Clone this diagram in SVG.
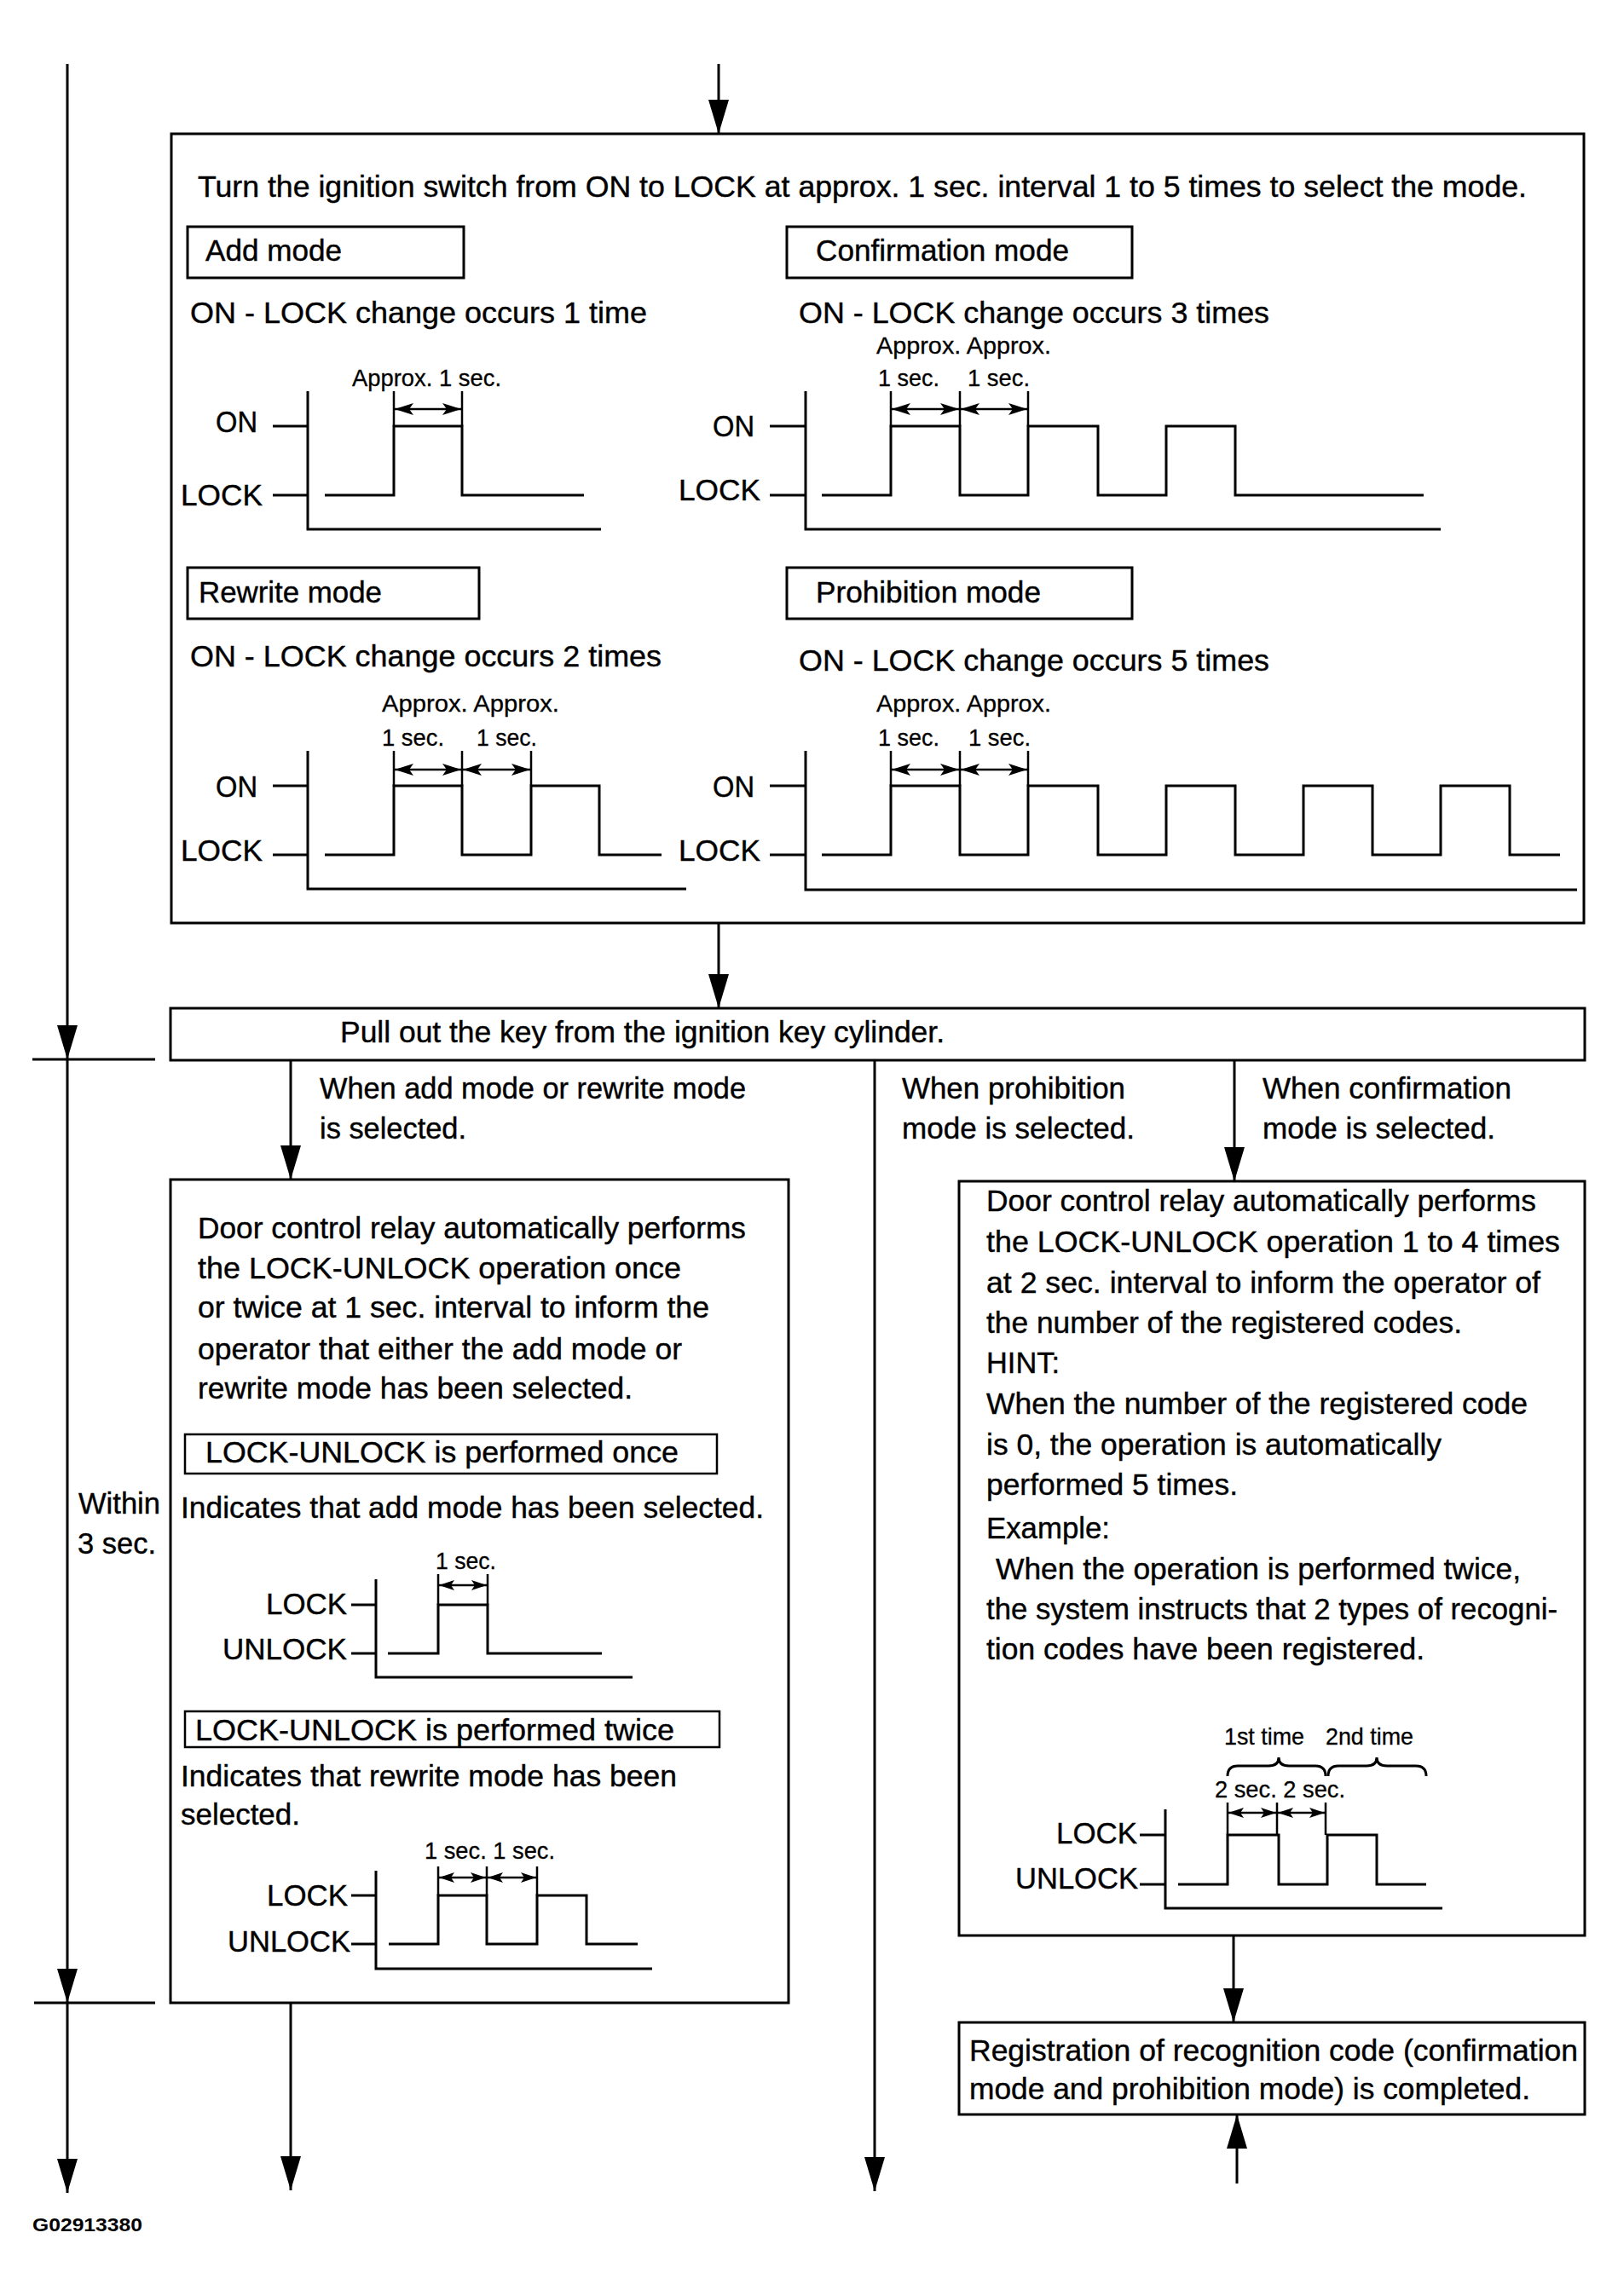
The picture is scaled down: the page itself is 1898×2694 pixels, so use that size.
<svg xmlns="http://www.w3.org/2000/svg" width="1898" height="2694" viewBox="0 0 1898 2694">
<style>
text{font-family:"Liberation Sans",Arial,Helvetica,sans-serif;font-size:35px;fill:#000;stroke:#000;stroke-width:0.4}
.s{font-size:28px;stroke-width:0.3}
.g{font-size:22px;font-weight:bold;stroke-width:0}
.box{fill:none;stroke:#000;stroke-width:3}
.sub{fill:none;stroke:#000;stroke-width:2.5}
.ln{fill:none;stroke:#000;stroke-width:3}
.wv{fill:none;stroke:#000;stroke-width:3;stroke-linejoin:miter}
.dm{fill:none;stroke:#000;stroke-width:2.5}
.da{fill:none;stroke:#000;stroke-width:2.5;marker-start:url(#dh);marker-end:url(#dh)}
.ds{fill:none;stroke:#000;stroke-width:2.5;marker-start:url(#dhs);marker-end:url(#dhs)}
.fl{fill:none;stroke:#000;stroke-width:3;marker-end:url(#ah)}
</style>
<defs>
<marker id="ah" markerUnits="userSpaceOnUse" viewBox="0 0 40 24" markerWidth="40" markerHeight="24" refX="40" refY="12" orient="auto"><path d="M0,0 L40,12 L0,24 z" fill="#000"/></marker>
<marker id="dh" markerUnits="userSpaceOnUse" viewBox="0 0 22 14" markerWidth="22" markerHeight="14" refX="22" refY="7" orient="auto-start-reverse"><path d="M0,0 L22,7 L0,14 L5,7 z" fill="#000"/></marker>
<marker id="dhs" markerUnits="userSpaceOnUse" viewBox="0 0 18 12" markerWidth="18" markerHeight="12" refX="18" refY="6" orient="auto-start-reverse"><path d="M0,0 L18,6 L0,12 L4,6 z" fill="#000"/></marker>
</defs>
<rect width="1898" height="2694" fill="#fff"/>

<g id="connectors">
<path class="fl" d="M79,75 V1243"/>
<path class="fl" d="M79,1243 V2350"/>
<path class="fl" d="M79,2350 V2573"/>
<path class="ln" d="M38,1243 H182"/>
<path class="ln" d="M40,2350 H182"/>
<path class="fl" d="M843,75 V157"/>
<path class="fl" d="M843,1083 V1183"/>
<path class="fl" d="M341,1244 V1384"/>
<path class="fl" d="M1026,1244 V2571"/>
<path class="fl" d="M1448,1244 V1386"/>
<path class="fl" d="M1447,2271 V2373"/>
<path class="fl" d="M1451,2562 V2481"/>
<path class="fl" d="M341,2350 V2570"/>
<text x="375" y="1289" textLength="500" lengthAdjust="spacingAndGlyphs">When add mode or rewrite mode</text>
<text x="375" y="1336" textLength="172" lengthAdjust="spacingAndGlyphs">is selected.</text>
<text x="1058" y="1289" textLength="262" lengthAdjust="spacingAndGlyphs">When prohibition</text>
<text x="1058" y="1336" textLength="273" lengthAdjust="spacingAndGlyphs">mode is selected.</text>
<text x="1481" y="1289" textLength="292" lengthAdjust="spacingAndGlyphs">When confirmation</text>
<text x="1481" y="1336" textLength="273" lengthAdjust="spacingAndGlyphs">mode is selected.</text>
<text x="92" y="1776" textLength="96" lengthAdjust="spacingAndGlyphs">Within</text>
<text x="91" y="1823" textLength="92" lengthAdjust="spacingAndGlyphs">3 sec.</text>
</g>

<g id="mode-select">
<rect class="box" x="201" y="157" width="1657" height="926"/>
<text x="232" y="231" textLength="1559" lengthAdjust="spacingAndGlyphs">Turn the ignition switch from ON to LOCK at approx. 1 sec. interval 1 to 5 times to select the mode.</text>

<g id="add-mode">
<rect class="box" x="220" y="266" width="324" height="60"/>
<text x="241" y="306" textLength="160" lengthAdjust="spacingAndGlyphs">Add mode</text>
<text x="223" y="379" textLength="536" lengthAdjust="spacingAndGlyphs">ON - LOCK change occurs 1 time</text>
<text class="s" x="413" y="453" textLength="175" lengthAdjust="spacingAndGlyphs">Approx. 1 sec.</text>
<text x="253" y="507" textLength="49" lengthAdjust="spacingAndGlyphs">ON</text>
<text x="212" y="593" textLength="96" lengthAdjust="spacingAndGlyphs">LOCK</text>
<path class="ln" d="M361,459 V621 H705 M320,500 H361 M320,581 H361"/>
<path class="wv" d="M381,581 H462 V500 H542 V581 H685"/>
<path class="dm" d="M462,459 V500 M542,459 V500"/>
<path class="da" d="M463,480 H541"/>
</g>

<g id="confirmation-mode">
<rect class="box" x="923" y="266" width="405" height="60"/>
<text x="957" y="306" textLength="297" lengthAdjust="spacingAndGlyphs">Confirmation mode</text>
<text x="937" y="379" textLength="552" lengthAdjust="spacingAndGlyphs">ON - LOCK change occurs 3 times</text>
<text class="s" x="1028" y="415" textLength="205" lengthAdjust="spacingAndGlyphs">Approx. Approx.</text>
<text class="s" x="1030" y="453" textLength="72" lengthAdjust="spacingAndGlyphs">1 sec.</text>
<text class="s" x="1135" y="453" textLength="73" lengthAdjust="spacingAndGlyphs">1 sec.</text>
<text x="836" y="512" textLength="49" lengthAdjust="spacingAndGlyphs">ON</text>
<text x="796" y="587" textLength="96" lengthAdjust="spacingAndGlyphs">LOCK</text>
<path class="ln" d="M945,459 V621 H1690 M903,500 H945 M903,581 H945"/>
<path class="wv" d="M964,581 H1045 V500 H1126 V581 H1206 V500 H1288 V581 H1368 V500 H1449 V581 H1670"/>
<path class="dm" d="M1045,459 V500 M1126,459 V500 M1206,459 V500"/>
<path class="da" d="M1046,480 H1125"/>
<path class="da" d="M1127,480 H1205"/>
</g>

<g id="rewrite-mode">
<rect class="box" x="220" y="666" width="342" height="60"/>
<text x="233" y="707" textLength="215" lengthAdjust="spacingAndGlyphs">Rewrite mode</text>
<text x="223" y="782" textLength="553" lengthAdjust="spacingAndGlyphs">ON - LOCK change occurs 2 times</text>
<text class="s" x="448" y="835" textLength="208" lengthAdjust="spacingAndGlyphs">Approx. Approx.</text>
<text class="s" x="448" y="875" textLength="73" lengthAdjust="spacingAndGlyphs">1 sec.</text>
<text class="s" x="559" y="875" textLength="71" lengthAdjust="spacingAndGlyphs">1 sec.</text>
<text x="253" y="935" textLength="49" lengthAdjust="spacingAndGlyphs">ON</text>
<text x="212" y="1010" textLength="96" lengthAdjust="spacingAndGlyphs">LOCK</text>
<path class="ln" d="M361,881 V1043 H805 M320,922 H361 M320,1003 H361"/>
<path class="wv" d="M381,1003 H462 V922 H542 V1003 H623 V922 H703 V1003 H776"/>
<path class="dm" d="M462,881 V922 M542,881 V922 M623,881 V922"/>
<path class="da" d="M463,903 H541"/>
<path class="da" d="M543,903 H622"/>
</g>

<g id="prohibition-mode">
<rect class="box" x="923" y="666" width="405" height="60"/>
<text x="957" y="707" textLength="264" lengthAdjust="spacingAndGlyphs">Prohibition mode</text>
<text x="937" y="787" textLength="552" lengthAdjust="spacingAndGlyphs">ON - LOCK change occurs 5 times</text>
<text class="s" x="1028" y="835" textLength="205" lengthAdjust="spacingAndGlyphs">Approx. Approx.</text>
<text class="s" x="1030" y="875" textLength="72" lengthAdjust="spacingAndGlyphs">1 sec.</text>
<text class="s" x="1136" y="875" textLength="73" lengthAdjust="spacingAndGlyphs">1 sec.</text>
<text x="836" y="935" textLength="49" lengthAdjust="spacingAndGlyphs">ON</text>
<text x="796" y="1010" textLength="96" lengthAdjust="spacingAndGlyphs">LOCK</text>
<path class="ln" d="M945,881 V1044 H1850 M903,922 H945 M903,1003 H945"/>
<path class="wv" d="M964,1003 H1045 V922 H1126 V1003 H1206 V922 H1288 V1003 H1368 V922 H1449 V1003 H1529 V922 H1610 V1003 H1690 V922 H1771 V1003 H1830"/>
<path class="dm" d="M1045,881 V922 M1126,881 V922 M1206,881 V922"/>
<path class="da" d="M1046,903 H1125"/>
<path class="da" d="M1127,903 H1205"/>
</g>
</g>

<g id="pull-out-key">
<rect class="box" x="200" y="1183" width="1659" height="61"/>
<text x="399" y="1223" textLength="709" lengthAdjust="spacingAndGlyphs">Pull out the key from the ignition key cylinder.</text>
</g>

<g id="add-rewrite-result">
<rect class="box" x="200" y="1384" width="725" height="966"/>
<text x="232" y="1453" textLength="643" lengthAdjust="spacingAndGlyphs">Door control relay automatically performs</text>
<text x="232" y="1500" textLength="567" lengthAdjust="spacingAndGlyphs">the LOCK-UNLOCK operation once</text>
<text x="232" y="1546" textLength="600" lengthAdjust="spacingAndGlyphs">or twice at 1 sec. interval to inform the</text>
<text x="232" y="1595" textLength="568" lengthAdjust="spacingAndGlyphs">operator that either the add mode or</text>
<text x="232" y="1641" textLength="510" lengthAdjust="spacingAndGlyphs">rewrite mode has been selected.</text>
<rect class="sub" x="217" y="1683" width="624" height="46"/>
<text x="241" y="1716" textLength="555" lengthAdjust="spacingAndGlyphs">LOCK-UNLOCK is performed once</text>
<text x="212" y="1781" textLength="684" lengthAdjust="spacingAndGlyphs">Indicates that add mode has been selected.</text>
<text class="s" x="511" y="1841" textLength="71" lengthAdjust="spacingAndGlyphs">1 sec.</text>
<text x="312" y="1894" textLength="95" lengthAdjust="spacingAndGlyphs">LOCK</text>
<text x="261" y="1947" textLength="146" lengthAdjust="spacingAndGlyphs">UNLOCK</text>
<path class="ln" d="M441,1853 V1968 H742 M412,1883 H441 M412,1940 H441"/>
<path class="wv" d="M455,1940 H514 V1883 H572 V1940 H706"/>
<path class="dm" d="M514,1847 V1883 M572,1847 V1883"/>
<path class="ds" d="M515,1860 H571"/>
<rect class="sub" x="217" y="2008" width="627" height="42"/>
<text x="229" y="2042" textLength="562" lengthAdjust="spacingAndGlyphs">LOCK-UNLOCK is performed twice</text>
<text x="212" y="2096" textLength="582" lengthAdjust="spacingAndGlyphs">Indicates that rewrite mode has been</text>
<text x="212" y="2141" textLength="140" lengthAdjust="spacingAndGlyphs">selected.</text>
<text class="s" x="498" y="2181" textLength="153" lengthAdjust="spacingAndGlyphs">1 sec. 1 sec.</text>
<text x="313" y="2236" textLength="95" lengthAdjust="spacingAndGlyphs">LOCK</text>
<text x="267" y="2290" textLength="144" lengthAdjust="spacingAndGlyphs">UNLOCK</text>
<path class="ln" d="M441,2195 V2310 H765 M412,2224 H441 M412,2281 H441"/>
<path class="wv" d="M456,2281 H514 V2224 H571 V2281 H630 V2224 H688 V2281 H748"/>
<path class="dm" d="M514,2190 V2224 M571,2190 V2224 M630,2190 V2224"/>
<path class="ds" d="M515,2203 H570"/>
<path class="ds" d="M572,2203 H629"/>
</g>

<g id="confirmation-result">
<rect class="box" x="1125" y="1386" width="734" height="885"/>
<text x="1157" y="1421" textLength="645" lengthAdjust="spacingAndGlyphs">Door control relay automatically performs</text>
<text x="1157" y="1469" textLength="673" lengthAdjust="spacingAndGlyphs">the LOCK-UNLOCK operation 1 to 4 times</text>
<text x="1157" y="1517" textLength="650" lengthAdjust="spacingAndGlyphs">at 2 sec. interval to inform the operator of</text>
<text x="1157" y="1564" textLength="558" lengthAdjust="spacingAndGlyphs">the number of the registered codes.</text>
<text x="1157" y="1611" textLength="86" lengthAdjust="spacingAndGlyphs">HINT:</text>
<text x="1157" y="1659" textLength="635" lengthAdjust="spacingAndGlyphs">When the number of the registered code</text>
<text x="1157" y="1707" textLength="534" lengthAdjust="spacingAndGlyphs">is 0, the operation is automatically</text>
<text x="1157" y="1754" textLength="295" lengthAdjust="spacingAndGlyphs">performed 5 times.</text>
<text x="1157" y="1805" textLength="145" lengthAdjust="spacingAndGlyphs">Example:</text>
<text x="1168" y="1853" textLength="616" lengthAdjust="spacingAndGlyphs">When the operation is performed twice,</text>
<text x="1157" y="1900" textLength="670" lengthAdjust="spacingAndGlyphs">the system instructs that 2 types of recogni-</text>
<text x="1157" y="1947" textLength="514" lengthAdjust="spacingAndGlyphs">tion codes have been registered.</text>
<text class="s" x="1436" y="2047" textLength="94" lengthAdjust="spacingAndGlyphs">1st time</text>
<text class="s" x="1555" y="2047" textLength="103" lengthAdjust="spacingAndGlyphs">2nd time</text>
<path class="ln" d="M1440,2084 Q1440,2072 1452,2072 L1488,2072 Q1500,2072 1500,2062 Q1500,2072 1512,2072 L1543,2072 Q1555,2072 1555,2084"/>
<path class="ln" d="M1558,2084 Q1558,2072 1570,2072 L1603,2072 Q1615,2072 1615,2062 Q1615,2072 1627,2072 L1661,2072 Q1673,2072 1673,2084"/>
<text class="s" x="1425" y="2109" textLength="153" lengthAdjust="spacingAndGlyphs">2 sec. 2 sec.</text>
<text x="1239" y="2163" textLength="95" lengthAdjust="spacingAndGlyphs">LOCK</text>
<text x="1191" y="2216" textLength="144" lengthAdjust="spacingAndGlyphs">UNLOCK</text>
<path class="ln" d="M1367,2123 V2239 H1692 M1337,2153 H1367 M1337,2211 H1367"/>
<path class="wv" d="M1382,2211 H1440 V2153 H1500 V2211 H1557 V2153 H1615 V2211 H1673"/>
<path class="dm" d="M1440,2115 V2153 M1498,2115 V2153 M1555,2115 V2153"/>
<path class="ds" d="M1441,2127 H1497"/>
<path class="ds" d="M1499,2127 H1554"/>
</g>

<g id="registration-complete">
<rect class="box" x="1125" y="2373" width="734" height="108"/>
<text x="1137" y="2418" textLength="714" lengthAdjust="spacingAndGlyphs">Registration of recognition code (confirmation</text>
<text x="1137" y="2463" textLength="658" lengthAdjust="spacingAndGlyphs">mode and prohibition mode) is completed.</text>
</g>

<text class="g" x="38" y="2618" textLength="129" lengthAdjust="spacingAndGlyphs">G02913380</text>
</svg>
